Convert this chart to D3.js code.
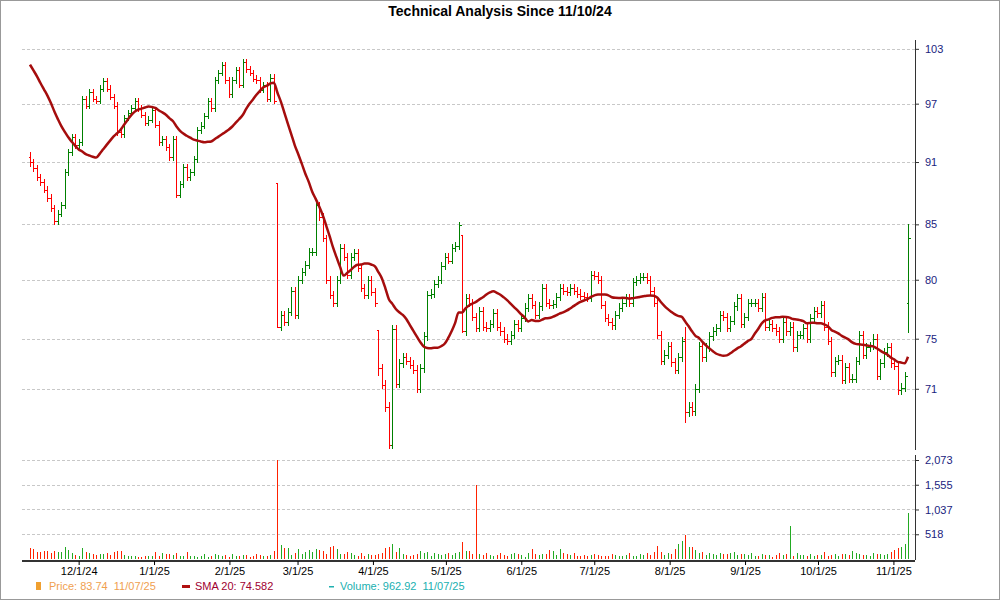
<!DOCTYPE html>
<html><head><meta charset="utf-8">
<script src="https://cdn.jsdelivr.net/npm/d3@7"></script>
<style>body{margin:0;background:#fff}svg{font-family:Arial,"Liberation Sans",sans-serif}text{white-space:pre}</style>
</head><body><svg id="c" width="1000" height="600"></svg>
<script>
const title = "Technical Analysis Since 11/10/24";
const startDate = "2024-11-11", endDate = "2025-11-07";
const preCloses = [103,102.5,103.5,102,101,102.5,103,102,101.5,102,103,102.5,101,100.5,101.5,102,101,100,99];
const closesA = [91,90.4,89.5,89,88.3,87.5,86.5,85.3,86,86.8,90,92,93.5,92.7,93];
const closesB = [97.5,96.8,98.2,97.5,97.3,98.6,99.4,98.6,97.7,96.8,94,93.8,95.5,96,96.5,97.3,96.5,95.8,95,95.3,96.3,94.8,93,93.3,92.5];
const closesC = [91.5,93.3,87.8,88.8,90.5,89.5,90,91.3,94.2,94.7,95.7,97.3,96.5,99.5,100.3,101.2,99.5,98,99.5,100.6,99,101.5,100.7,100.3,99.7,99.5,98.5,99,97.5,99.8,97.3,76,77,76.4,77.2,79,77,80,80.7,81.3,82.5,82.5,86.8];
const closesD = [85.7,83.7,80,78.7,78,80,82.8,82,80.4,82,82.4,81,79.3,78.7,80,78.9,78,72.6,71.3,69.6,66.8,75.8,71.4,73,73.5,73.2,72.9,72.5,71,72.6,75.2,78.7,78.8,79.6,80,81.2,82,81.7,82.8];
const closesE = [83,84.9,75.6,78.4,78,76.8,75.9,77.3,76,75.9,76.2,77.1,76,75.6,75,74.8,75.3,76.2,75.9,76.7,77.6,78.4,77.8,77,77.7,79.3,78,77.8,77.9,78.5,79.3,79,78.9,79.3,79,78.8,78.6,78.5,78.4];
const closesF = [80.4,80.3,80,77.8,76.7,76.4,76.1,77,77.6,78,78.4,78,79.8,80,80.2,80.2,80,79,78,75.3,73.2,73.7,74.4,73.1,72.5,73.5,74.8,69.2,69.6,69.3,71,74.4,73.5,74.3,75.2,75.6,75.9,77,76.8,75.9,76.5,77.7,78.4,76.2];
const closesG = [76.8,78,78,78,77.6,78.5,76,76.2,75.9,75.6,75,76.4,75.6,76,74.3,75.3,75.3,75.9,75,76.7,77.3,77.1,77.8,76,74.8,72.3,73.2,73.3,71.7,72.7,71.8,71.8,73.2,75.3,73.7,74.3,74.4,75,72,73,73.9,74.3,73,72.8,70.9,71.1,72,83.74];
const volA = [230,200,150,140,160,170,130,160,150,140,250,180,120,90,60];
const volB = [240,140,120,110,90,110,100,120,80,140,160,170,90,60,70,60,50,40,60,60,70,140,60,120,100];
const volC = [100,80,130,70,60,150,60,60,40,70,100,50,70,110,80,60,90,40,110,60,60,90,80,40,70,110,80,60,60,90,170,2073,300,240,220,80,120,200,100,150,190,150,210];
const volD = [180,160,100,260,280,200,100,110,150,120,90,70,130,60,110,80,90,110,120,220,260,320,140,230,100,80,60,90,100,160,120,140,60,120,110,80,100,130,80];
const volE = [120,140,350,170,160,100,1555,110,90,120,80,60,90,120,80,60,100,130,110,80,50,120,210,100,90,100,110,180,170,90,200,130,100,80,130,70,60,90,70];
const volF = [90,100,80,70,60,60,100,80,60,70,80,120,60,70,100,90,130,80,150,280,150,90,120,110,200,310,380,500,250,260,190,130,140,90,120,100,90,130,110,100,120,150,90,100];
const volG = [100,80,120,70,60,100,80,90,50,80,130,80,100,700,60,120,90,80,60,100,70,80,80,140,70,90,100,60,110,100,80,170,120,100,90,80,60,120,110,100,90,100,140,180,220,260,320,962.92];
// [index, open, high, low]
const barOverrides = [[0,91.5,92,90.5],[71,88.9,88.9,75.9],[100,75.7,75.7,72],[124,84,84,75.5],[188,75,76,68.4],[252,78,85,75.5]];
const priceTicks = [103,97,91,85,80,75,71];
const volTicks = [518,1037,1555,2073];
const monthTicks = ["2024-12-01","2025-01-01","2025-02-01","2025-03-01","2025-04-01","2025-05-01","2025-06-01","2025-07-01","2025-08-01","2025-09-01","2025-10-01","2025-11-01"];

const closes = [...closesA,...closesB,...closesC,...closesD,...closesE,...closesF,...closesG];
const vols = [...volA,...volB,...volC,...volD,...volE,...volF,...volG];
const N = closes.length;
const bars = closes.map((c,i)=>{
  let o = i>0 ? closes[i-1] : c;
  let h = Math.max(o,c)+0.35, l = Math.min(o,c)-0.35;
  const ov = barOverrides.find(d=>d[0]===i);
  if (ov){ o=ov[1]; h=Math.max(ov[2],o,c); l=Math.min(ov[3],o,c); }
  return {i,o,h,l,c,v:vols[i]||0};
});
const all = [...preCloses,...closes];
const sma = closes.map((c,i)=>{const k=i+preCloses.length; return d3.mean(all.slice(k-19,k+1));});

const svg = d3.select("#c");
const L=22, R=915, PT=40, PB=450, VT=455, VB=560;
svg.append("rect").attr("x",0.5).attr("y",0.5).attr("width",999).attr("height",599).attr("fill","#fff").attr("stroke","#999");
svg.append("text").attr("x",500).attr("y",16).attr("text-anchor","middle").attr("font-size",14).attr("font-weight","bold").text(title);

const xi = d3.scaleLinear().domain([0,N-1]).range([30,908]);
const xt = d3.scaleTime().domain([new Date(startDate+"T00:00"),new Date(endDate+"T00:00")]).range([30,908]);
const y = d3.scaleLog().domain([66.4,104]).range([PB,PT]);
const yv = d3.scaleLinear().domain([0,2073]).range([VB-1,460]);

const g = svg.append("g").attr("shape-rendering","crispEdges");
g.selectAll(".gp").data(priceTicks).join("line").attr("x1",L).attr("x2",R).attr("y1",d=>Math.round(y(d))+0.5).attr("y2",d=>Math.round(y(d))+0.5).attr("stroke","#c8c8c8").attr("stroke-dasharray","3,2");
g.selectAll(".gv").data(volTicks).join("line").attr("x1",L).attr("x2",R).attr("y1",d=>Math.round(yv(d))+0.5).attr("y2",d=>Math.round(yv(d))+0.5).attr("stroke","#c8c8c8").attr("stroke-dasharray","3,2");

const ay = svg.append("g").attr("transform",`translate(${R},0)`).call(d3.axisRight(y).tickValues(priceTicks).tickFormat(d3.format("d")).tickSize(4));
const ayv = svg.append("g").attr("transform",`translate(${R},0)`).call(d3.axisRight(yv).tickValues(volTicks).tickFormat(d3.format(",")).tickSize(4));
[ay,ayv].forEach(a=>{a.select(".domain").remove();a.selectAll("text").attr("fill","#1a237e").attr("font-size",11).attr("x",10);a.selectAll("line").attr("stroke","#333");});
g.append("line").attr("x1",R+0.5).attr("x2",R+0.5).attr("y1",PT).attr("y2",PB).attr("stroke","#333").attr("stroke-width",1.5);
g.append("line").attr("x1",R+0.5).attr("x2",R+0.5).attr("y1",VT).attr("y2",VB).attr("stroke","#333").attr("stroke-width",1.5);
g.append("line").attr("x1",L).attr("x2",R).attr("y1",VB+0.5).attr("y2",VB+0.5).attr("stroke","#333").attr("stroke-width",2);

const ax = svg.append("g").attr("transform",`translate(0,${VB+1})`).call(d3.axisBottom(xt).tickValues(monthTicks.map(s=>new Date(s+"T00:00"))).tickFormat(d3.timeFormat("%-m/%-d/%y")).tickSize(4));
ax.select(".domain").remove();
ax.selectAll("text").attr("font-size",11).attr("fill","#000").attr("y",6);

const up="#008000", dn="#ff0000";
const bg = svg.append("g").attr("shape-rendering","crispEdges");
bars.forEach(b=>{
  const x=Math.round(xi(b.i))+0.5, col=b.c>=b.o?up:dn;
  bg.append("line").attr("x1",x).attr("x2",x).attr("y1",y(b.h)).attr("y2",y(b.l)).attr("stroke",col);
  bg.append("line").attr("x1",x-2).attr("x2",x).attr("y1",Math.round(y(b.o))+0.5).attr("y2",Math.round(y(b.o))+0.5).attr("stroke",col);
  bg.append("line").attr("x1",x).attr("x2",x+2).attr("y1",Math.round(y(b.c))+0.5).attr("y2",Math.round(y(b.c))+0.5).attr("stroke",col);
  bg.append("line").attr("x1",x).attr("x2",x).attr("y1",yv(0)).attr("y2",yv(b.v)).attr("stroke",b.c>=b.o?"#22aa22":"#ff2200");
});

svg.append("path").datum(sma).attr("fill","none").attr("stroke","#a50d0d").attr("stroke-width",2.5)
  .attr("d",d3.line().x((d,i)=>xi(i)).y(d=>y(d)).curve(d3.curveMonotoneX));

const lg = svg.append("g").attr("font-size",11);
lg.append("rect").attr("x",36).attr("y",582).attr("width",5).attr("height",8).attr("fill","#f0a030");
lg.append("text").attr("x",49).attr("y",590).attr("fill","#f0a050").text("Price: 83.74  11/07/25");
lg.append("rect").attr("x",182).attr("y",585).attr("width",8).attr("height",3).attr("fill","#b01010");
lg.append("text").attr("x",195).attr("y",590).attr("fill","#a00030").text("SMA 20: 74.582");
lg.append("rect").attr("x",329).attr("y",586).attr("width",5).attr("height",1.5).attr("fill","#20b0b0");
lg.append("text").attr("x",340).attr("y",590).attr("fill","#20b0b0").text("Volume: 962.92  11/07/25");
</script></body></html>
